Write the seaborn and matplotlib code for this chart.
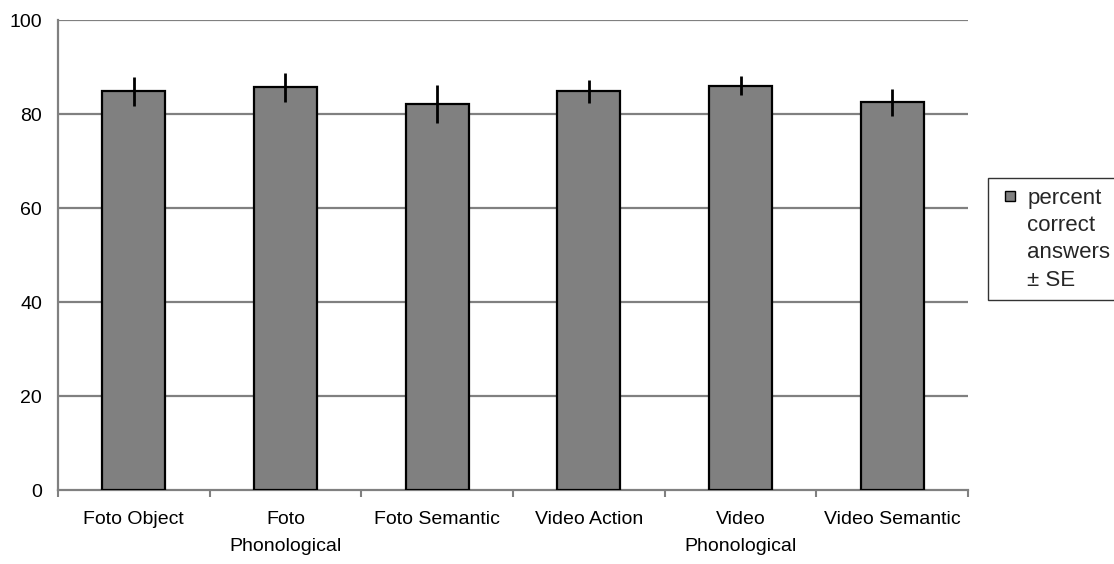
import matplotlib
matplotlib.use("Agg")
import matplotlib.pyplot as plt
import seaborn as sns
import numpy as np
import pandas as pd
from matplotlib.lines import Line2D

categories = ["Foto Object", "Foto\nPhonological", "Foto Semantic",
              "Video Action", "Video\nPhonological", "Video Semantic"]
percent_correct = [84.8, 85.7, 82.1, 84.8, 86.0, 82.5]
se = [3.1, 3.1, 4.1, 2.4, 2.0, 2.9]
y_ticks = [0, 20, 40, 60, 80, 100]
legend_label = "percent\ncorrect\nanswers\n± SE"

sns.set_theme(style="white")
plt.rcParams['font.family'] = ['Liberation Sans', 'DejaVu Sans']

df = pd.DataFrame({"cat": categories, "val": percent_correct, "se": se})

fig = plt.figure(figsize=(11.14, 5.64), dpi=100)
ax = fig.add_axes([0.052, 0.131, 0.817, 0.8335])

sns.barplot(data=df, x="cat", y="val", color="#808080", saturation=1,
            edgecolor="black", linewidth=1.6, width=0.415, errorbar=None, ax=ax,
            zorder=3)
ax.errorbar(np.arange(len(categories)), df["val"], yerr=df["se"], fmt="none",
            ecolor="black", elinewidth=2.0, capsize=0, zorder=4)

ax.set_ylim(0, 100)
ax.set_xlim(-0.5, len(categories) - 0.5)
ax.set_yticks(y_ticks)
for yv in y_ticks[1:]:
    ax.axhline(yv, color="#808080", linewidth=1.6, zorder=1)

ax.set_xlabel("")
ax.set_ylabel("")
for s in ["top", "right"]:
    ax.spines[s].set_visible(False)
for s in ["left", "bottom"]:
    ax.spines[s].set_color("#808080")
    ax.spines[s].set_linewidth(1.6)

ax.set_xticks(np.arange(len(categories)))
ax.set_xticklabels(categories, linespacing=1.8)
ax.tick_params(axis="y", left=False, length=0, labelsize=14, pad=11.5,
               labelcolor="black")
ax.tick_params(axis="x", which="major", bottom=False, length=0, labelsize=14,
               pad=15, labelcolor="black")
ax.set_xticks(np.arange(-0.5, len(categories)), minor=True)
ax.tick_params(axis="x", which="minor", bottom=True, length=5, width=1.5,
               color="#808080")

handle = Line2D([], [], linestyle="none", marker="s", markersize=7.5,
                markerfacecolor="#808080", markeredgecolor="black",
                markeredgewidth=1.0)
leg = ax.legend([handle], [legend_label], loc="upper left",
                bbox_to_anchor=(1.022, 0.664), frameon=True, fontsize=16,
                handlelength=1.13, handleheight=0.86, handletextpad=0.2,
                borderpad=0.43, fancybox=False, borderaxespad=0)
leg.get_frame().set_edgecolor("black")
leg.get_frame().set_linewidth(1.0)
for t in leg.get_texts():
    t.set_linespacing(1.4)
for col in leg._legend_handle_box.get_children():
    for item in col.get_children():
        item.align = "top"

fig.savefig("out.png", dpi=100, facecolor="white")
